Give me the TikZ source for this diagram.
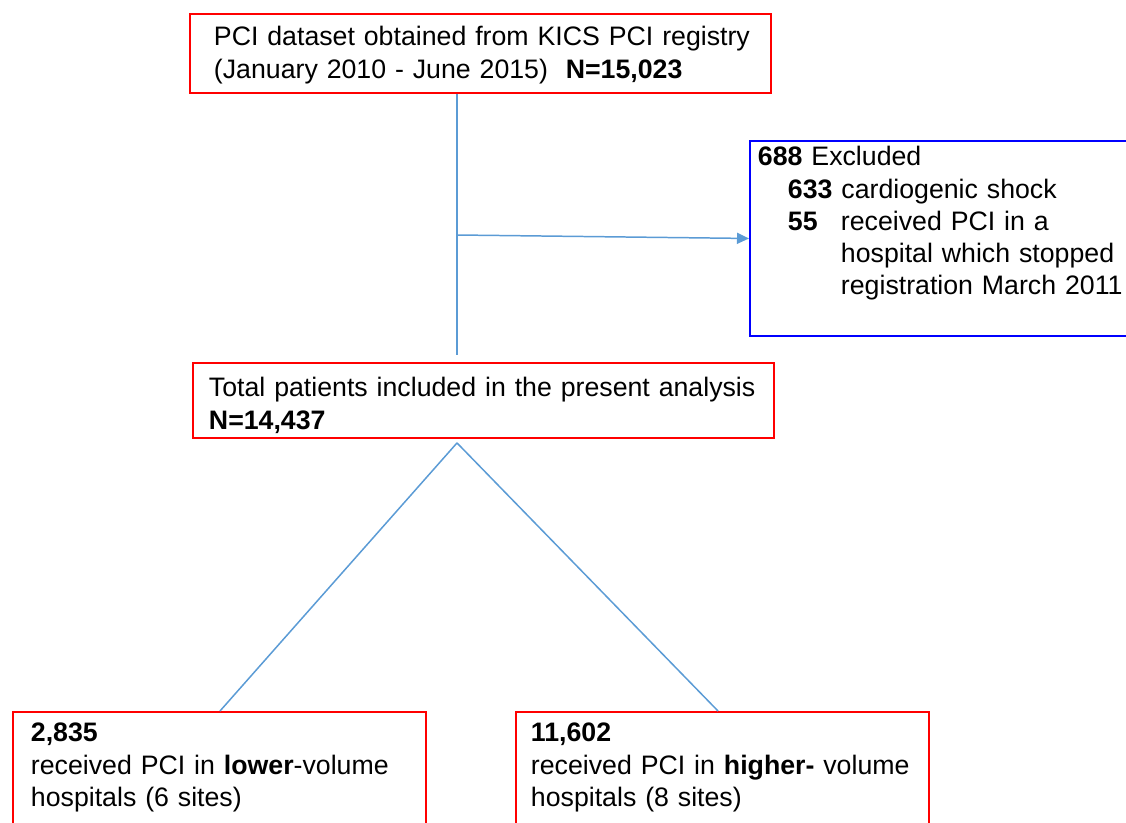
\documentclass[tikz,border=0pt]{standalone}
\usepackage{fontspec}
\setmainfont{Liberation Sans}
\usetikzlibrary{arrows.meta}

\definecolor{boxred}{RGB}{255,0,0}
\definecolor{boxblue}{RGB}{0,0,255}
\definecolor{linkblue}{RGB}{91,155,213}

\begin{document}
\begin{tikzpicture}[font=\fontsize{15.2}{18.3}\selectfont]

\useasboundingbox (0,0) rectangle (22.52,-16.46);
\clip (0,0) rectangle (22.52,-16.46);

\tikzset{
    flowbox/.style={draw,
        line width=1.1pt,
        anchor=north west,
        align=left,
        inner ysep=0pt},
    link/.style={draw=linkblue,
        line width=0.85pt}
}

\node [flowbox,
    draw=boxred,
    inner xsep=0.48cm,
    text width=10.66cm,
    text height=0.64cm,
    text depth=0.94cm] (dataset) at (3.78,-0.26)
    {\mbox{PCI dataset obtained from KICS PCI registry}\\
     \mbox{(January 2010 - June 2015)\ \ \textbf{N=15,023}}};

\node [flowbox,
    draw=boxblue,
    inner xsep=0.16cm,
    text width=8cm,
    text height=0.5cm,
    text depth=3.4cm] (excluded) at (14.98,-2.8)
    {\textbf{688} Excluded\\
     \hspace*{0.6cm}\textbf{633} cardiogenic shock\\
     \hspace*{0.6cm}\makebox[1.06cm][l]{\textbf{55}}received PCI in a\\
     \hspace*{1.66cm}hospital which stopped\\
     \hspace*{1.66cm}\mbox{registration March 2011}};

\node [flowbox,
    draw=boxred,
    inner xsep=0.32cm,
    text width=10.98cm,
    text height=0.68cm,
    text depth=0.82cm] (total) at (3.84,-7.24)
    {\mbox{Total patients included in the present analysis}\\
     \textbf{N=14,437}};

\node [flowbox,
    draw=boxred,
    inner xsep=0.36cm,
    text width=7.54cm,
    text height=0.6cm,
    text depth=2.5cm] (lower) at (0.24,-14.22)
    {\textbf{2,835}\\
     \mbox{received PCI in \textbf{lower}-volume}\\
     hospitals (6 sites)};

\node [flowbox,
    draw=boxred,
    inner xsep=0.3cm,
    text width=7.66cm,
    text height=0.6cm,
    text depth=2.5cm] (higher) at (10.3,-14.22)
    {\textbf{11,602}\\
     \mbox{received PCI in \textbf{higher-} volume}\\
     hospitals (8 sites)};

\coordinate (branch) at (9.14,-4.7);
\coordinate (stemend) at ([yshift=0.14cm]total.north -| branch);
\coordinate (apex) at ([yshift=-0.08cm]total.south -| branch);

\draw [link] (dataset.south -| branch) -- (stemend);
\draw [link, -{Triangle[length=0.24cm,width=0.22cm]}] (branch) -- (excluded.west);
\draw [link] (apex) -- ([xshift=4.16cm]lower.north west);
\draw [link] (apex) -- ([xshift=4.06cm]higher.north west);

\end{tikzpicture}
\end{document}
